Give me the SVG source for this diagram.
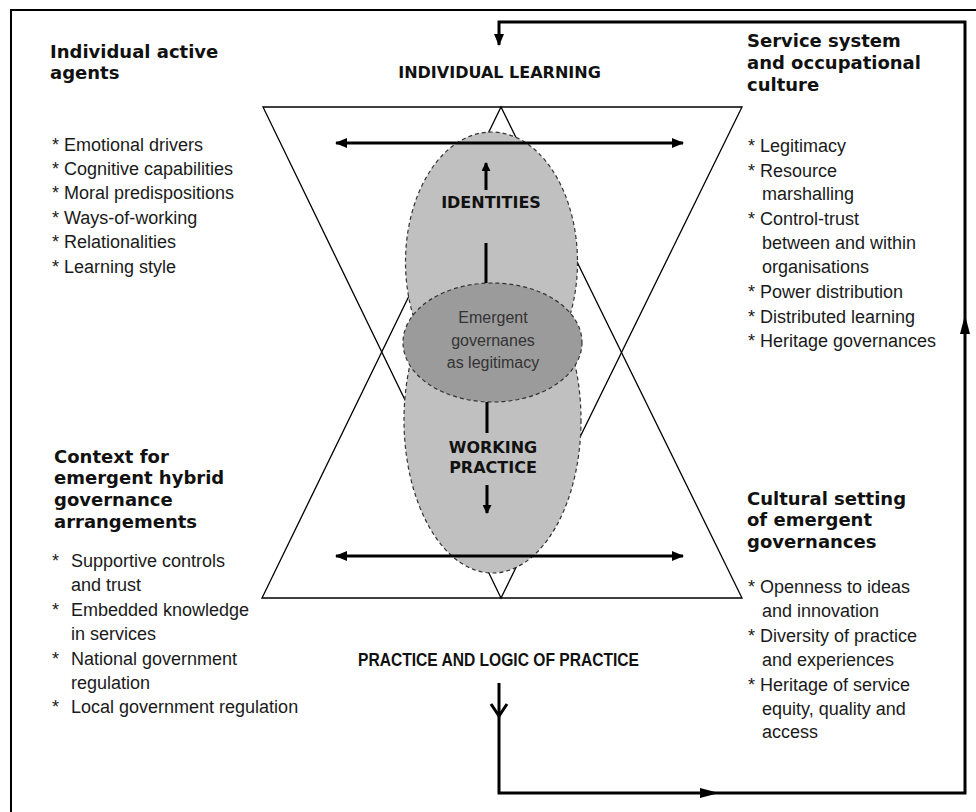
<svg xmlns="http://www.w3.org/2000/svg" width="976" height="812" viewBox="0 0 976 812">
<defs>
<style>
.head{font-family:"DejaVu Sans",Verdana,sans-serif;font-weight:bold;font-size:18px;fill:#111}
.cap{font-family:"DejaVu Sans",Verdana,sans-serif;font-weight:bold;font-size:16px;fill:#111;text-anchor:middle}
.body{font-family:"Liberation Sans",Arial,sans-serif;font-size:18px;fill:#1a1a1a}
.mid{font-family:"Liberation Sans",Arial,sans-serif;font-size:16px;fill:#333;text-anchor:middle}
.tri{fill:none;stroke:#000;stroke-width:1.3}
.lobe{fill:#c0c0c0;stroke:#333;stroke-width:1.2;stroke-dasharray:4 3}
.core{fill:#9b9b9b;stroke:#333;stroke-width:1.2;stroke-dasharray:4 3}
.thick{fill:none;stroke:#000;stroke-width:3}
</style>
<marker id="ah" viewBox="0 0 12 10" refX="11" refY="5" markerWidth="12" markerHeight="10" markerUnits="userSpaceOnUse" orient="auto-start-reverse">
<path d="M0,0 L12,5 L0,10 Z" fill="#000"/>
</marker>
<marker id="ahs" viewBox="0 0 9 9" refX="8" refY="4.5" markerWidth="9" markerHeight="9" markerUnits="userSpaceOnUse" orient="auto">
<path d="M0,0 L9,4.5 L0,9 Z" fill="#000"/>
</marker>
</defs>
<rect width="976" height="812" fill="#fff"/>
<g id="frame">
<path d="M11,812 V10 H976" fill="none" stroke="#000" stroke-width="2"/>
</g>
<g id="triangles">
<polygon class="tri" points="263,107 742,107 501,598"/>
<polygon class="tri" points="262,598 742,598 501,107"/>
</g>
<g id="lower-lobe"><ellipse class="lobe" cx="492.5" cy="420" rx="88.5" ry="153"/></g>
<g id="upper-lobe"><ellipse class="lobe" cx="491.5" cy="262" rx="86" ry="130"/></g>
<g id="core">
<ellipse class="core" cx="492.5" cy="342.5" rx="89.5" ry="59.5"/>
<text class="mid" x="493" y="323">Emergent</text>
<text class="mid" x="493" y="346">governanes</text>
<text class="mid" x="493" y="368">as legitimacy</text>
</g>
<g id="connectors">
<line class="thick" x1="336" y1="143" x2="683" y2="143" marker-start="url(#ah)" marker-end="url(#ah)"/>
<line class="thick" x1="336" y1="556" x2="683" y2="556" marker-start="url(#ah)" marker-end="url(#ah)"/>
<line class="thick" x1="486" y1="190" x2="486" y2="163" marker-end="url(#ahs)"/>
<line class="thick" x1="486" y1="243" x2="486" y2="283"/>
<line class="thick" x1="487" y1="402" x2="487" y2="433"/>
<line class="thick" x1="487" y1="485" x2="487" y2="513" marker-end="url(#ahs)"/>
<path class="thick" d="M499,683 V793 H965 V22 H499 V45" marker-end="url(#ah)"/>
<polyline class="thick" points="491,704 499,716 507,704"/>
<polygon points="700,788 719,793 700,798" fill="#000"/>
<polygon points="960,334 965,315 970,334" fill="#000"/>
</g>
<g id="labels">
<text class="cap" x="499.5" y="78">INDIVIDUAL LEARNING</text>
<text class="cap" x="491" y="208">IDENTITIES</text>
<text class="cap" x="493" y="453">WORKING</text>
<text class="cap" x="493" y="473">PRACTICE</text>
<text x="498.5" y="666" font-family="Liberation Sans, Arial, sans-serif" font-weight="bold" font-size="17.5" fill="#111" text-anchor="middle" textLength="281" lengthAdjust="spacingAndGlyphs">PRACTICE AND LOGIC OF PRACTICE</text>
</g>
<g id="individual-agents">
<text class="head" x="50" y="58">Individual active</text>
<text class="head" x="50" y="79">agents</text>
<text class="body" x="52" y="150.5">* Emotional drivers</text>
<text class="body" x="52" y="175">* Cognitive capabilities</text>
<text class="body" x="52" y="199">* Moral predispositions</text>
<text class="body" x="52" y="223.5">* Ways-of-working</text>
<text class="body" x="52" y="248">* Relationalities</text>
<text class="body" x="52" y="272.5">* Learning style</text>
</g>
<g id="service-system">
<text class="head" x="747" y="47">Service system</text>
<text class="head" x="747" y="69">and occupational</text>
<text class="head" x="747" y="91">culture</text>
<text class="body" x="748" y="152">* Legitimacy</text>
<text class="body" x="748" y="177">* Resource</text>
<text class="body" x="762" y="200">marshalling</text>
<text class="body" x="748" y="225">* Control-trust</text>
<text class="body" x="762" y="249">between and within</text>
<text class="body" x="762" y="273">organisations</text>
<text class="body" x="748" y="297.5">* Power distribution</text>
<text class="body" x="748" y="322.5">* Distributed learning</text>
<text class="body" x="748" y="347">* Heritage governances</text>
</g>
<g id="context">
<text class="head" x="54" y="463">Context for</text>
<text class="head" x="54" y="484">emergent hybrid</text>
<text class="head" x="54" y="506">governance</text>
<text class="head" x="54" y="528">arrangements</text>
<text class="body" x="52" y="567">*</text><text class="body" x="71" y="567">Supportive controls</text>
<text class="body" x="71" y="591">and trust</text>
<text class="body" x="52" y="616">*</text><text class="body" x="71" y="616">Embedded knowledge</text>
<text class="body" x="71" y="640">in services</text>
<text class="body" x="52" y="665">*</text><text class="body" x="71" y="665">National government</text>
<text class="body" x="71" y="689">regulation</text>
<text class="body" x="52" y="713">*</text><text class="body" x="71" y="713">Local government regulation</text>
</g>
<g id="cultural-setting">
<text class="head" x="747" y="505">Cultural setting</text>
<text class="head" x="747" y="526">of emergent</text>
<text class="head" x="747" y="548">governances</text>
<text class="body" x="748" y="593">* Openness to ideas</text>
<text class="body" x="762" y="617">and innovation</text>
<text class="body" x="748" y="642">* Diversity of practice</text>
<text class="body" x="762" y="666">and experiences</text>
<text class="body" x="748" y="691">* Heritage of service</text>
<text class="body" x="762" y="715">equity, quality and</text>
<text class="body" x="762" y="738">access</text>
</g>
</svg>
